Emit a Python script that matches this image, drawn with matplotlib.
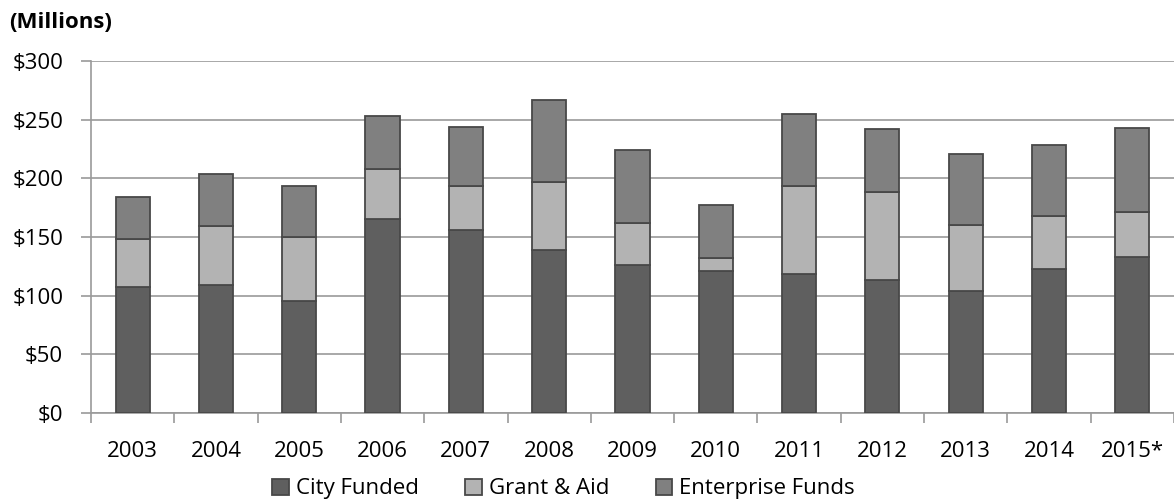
import matplotlib
matplotlib.use("Agg")
import matplotlib.pyplot as plt
import numpy as np
from matplotlib.ticker import FixedLocator

plt.rcParams["font.family"] = ["Open Sans", "DejaVu Sans"]

years = ["2003", "2004", "2005", "2006", "2007", "2008", "2009",
         "2010", "2011", "2012", "2013", "2014", "2015*"]
city_funded = [107, 109, 95, 165, 156, 139, 126, 121, 118, 113, 104, 123, 133]
grant_aid = [41, 50, 55, 43, 37, 58, 36, 11, 75, 75, 56, 45, 38]
enterprise = [36, 45, 43, 45, 51, 70, 62, 45, 62, 54, 61, 60, 72]

COLORS = {"City Funded": "#5f5f5f", "Grant & Aid": "#b3b3b3",
          "Enterprise Funds": "#808080"}
EDGE = "#484848"
GRID = "#9a9a9a"

fig = plt.figure(figsize=(11.74, 5.03), dpi=100)
ax = fig.add_axes([0.0775, 0.179, 0.9225, 0.7])

x = np.arange(len(years))
w = 0.41
city = np.array(city_funded)
grant = np.array(grant_aid)
ent = np.array(enterprise)
ax.bar(x, city, w, color=COLORS["City Funded"], edgecolor=EDGE, lw=1.3,
       label="City Funded", zorder=3)
ax.bar(x, grant, w, bottom=city, color=COLORS["Grant & Aid"], edgecolor=EDGE,
       lw=1.3, label="Grant & Aid", zorder=3)
ax.bar(x, ent, w, bottom=city + grant, color=COLORS["Enterprise Funds"],
       edgecolor=EDGE, lw=1.3, label="Enterprise Funds", zorder=3)

ax.set_xlim(-0.5, len(years) - 0.5)
ax.set_ylim(0, 300)
ax.set_yticks(np.arange(0, 301, 50))
ax.set_yticklabels([f"${v}" for v in range(0, 301, 50)], fontsize=16)
ax.set_xticks(x)
ax.set_xticklabels(years, fontsize=16)
ax.xaxis.set_minor_locator(FixedLocator(np.arange(-0.5, len(years), 1)))
ax.tick_params(axis="x", which="major", length=0, pad=20)
ax.tick_params(axis="x", which="minor", length=7, color=GRID, width=1.2)
ax.tick_params(axis="y", length=7, color=GRID, width=1.2, pad=13)

ax.grid(axis="y", color=GRID, lw=1.2, zorder=0)
for s in ["top", "right"]:
    ax.spines[s].set_visible(False)
for s in ["left", "bottom"]:
    ax.spines[s].set_color(GRID)
    ax.spines[s].set_linewidth(1.2)

fig.text(0.008, 0.956, "(Millions)", fontsize=16, fontweight="bold",
         va="center", ha="left")

fig.legend(loc="center", bbox_to_anchor=(0.48, 0.028), ncol=3, frameon=False,
           fontsize=16, handlelength=0.75, handleheight=0.75, handletextpad=0.3,
           columnspacing=2.1)

fig.savefig("out.png", dpi=100)
